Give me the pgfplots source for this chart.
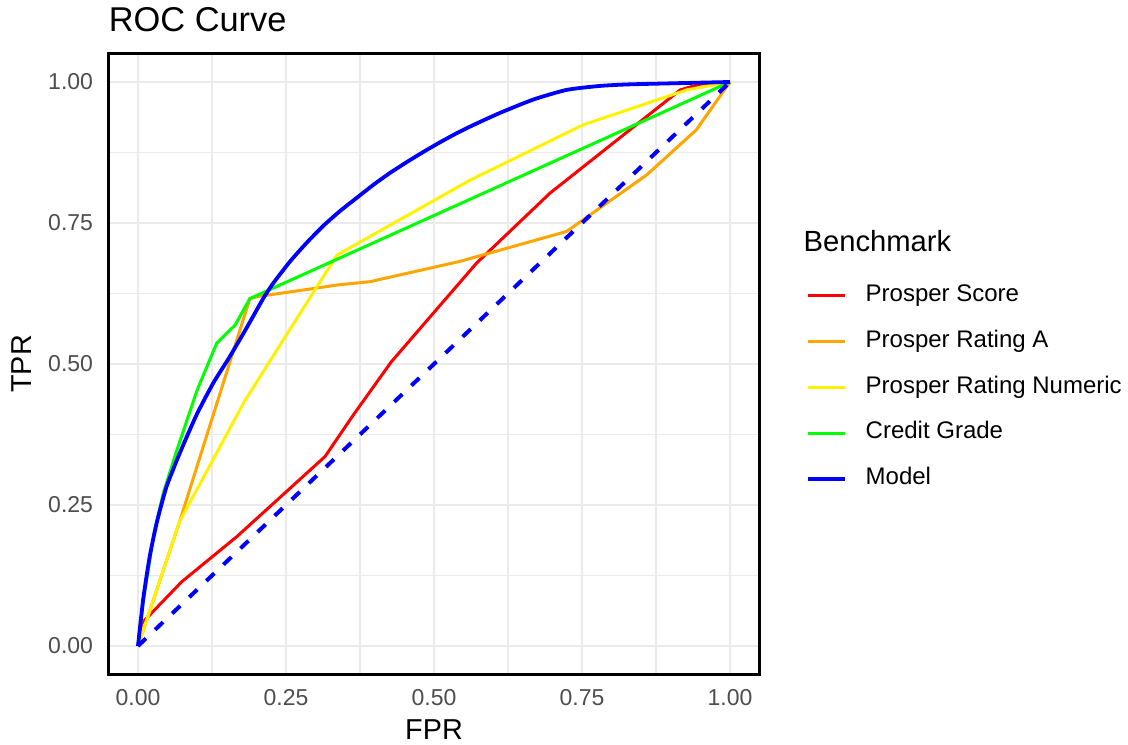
\documentclass[border=0pt]{standalone}
\usepackage{fontspec}
\setmainfont{Liberation Sans}
\usepackage{pgfplots}
\pgfplotsset{compat=1.18}
\definecolor{gridc}{HTML}{EBEBEB}
\definecolor{tickc}{HTML}{4D4D4D}
\definecolor{orng}{HTML}{FFA500}
\begin{document}
\begin{tikzpicture}
\begin{axis}[
  name=ax,
  scale only axis,
  width=325.6pt, height=310.2pt,
  xmin=-0.05, xmax=1.05, ymin=-0.05, ymax=1.05,
  xtick={0,0.25,0.5,0.75,1}, ytick={0,0.25,0.5,0.75,1},
  xticklabels={0.00,0.25,0.50,0.75,1.00},
  yticklabels={0.00,0.25,0.50,0.75,1.00},
  minor xtick={0.125,0.375,0.625,0.875},
  minor ytick={0.125,0.375,0.625,0.875},
  major tick length=0pt, minor tick length=0pt,
  grid=both,
  major grid style={gridc, line width=1.35pt},
  minor grid style={gridc, line width=0.7pt},
  axis line style={black, line width=1.4pt},
  tick label style={font=\fontsize{11.5}{13}\selectfont, text=tickc},
  xticklabel style={anchor=base, yshift=-15.4pt, inner sep=0pt},
  yticklabel style={anchor=east, xshift=-7.5pt, inner sep=0pt},
  /pgf/number format/assume math mode=true,
  xlabel={FPR}, ylabel={TPR},
  label style={font=\fontsize{14.4}{17}\selectfont},
  xlabel style={at={(axis description cs:0.5,-0.10445)}, anchor=base, inner sep=0pt},
  ylabel style={at={(axis description cs:-0.11778,0.5)}, anchor=base, inner sep=0pt},
  legend cell align=left,
  legend image code/.code={\draw[#1] (0pt,0pt) -- (18.35pt,0pt);},
  legend style={at={(axis description cs:1.0717,0.6272)}, anchor=north west,
    draw=none, fill=none, inner sep=0pt, outer sep=0pt,
    row sep=12.075pt, column sep=9.45pt,
    font=\fontsize{12}{14}\selectfont,
    nodes={inner sep=0pt, outer sep=0pt, text height=8.3pt, text depth=2.5pt}},
  clip=false,
]
\addplot[red, line width=1.5pt] coordinates {
(0,0) (0.006,0.040) (0.074,0.114) (0.167,0.194) (0.316,0.336) (0.364,0.410)
(0.428,0.504) (0.572,0.679) (0.696,0.803) (0.916,0.986) (0.949,0.996) (1,1)};
\addlegendentry{Prosper Score}
\addplot[orng, line width=1.5pt] coordinates {
(0,0) (0.071,0.223) (0.189,0.616) (0.205,0.620) (0.291,0.633) (0.336,0.640)
(0.392,0.646) (0.544,0.682) (0.724,0.735) (0.859,0.835) (0.943,0.915) (1,1)};
\addlegendentry{Prosper Rating A}
\addplot[yellow, line width=1.5pt] coordinates {
(0,0) (0.070,0.220) (0.180,0.434) (0.336,0.693) (0.561,0.826) (0.752,0.924)
(0.927,0.986) (1,1)};
\addlegendentry{Prosper Rating Numeric}
\addplot[green, line width=1.5pt] coordinates {
(0,0) (0.009,0.080) (0.027,0.200) (0.043,0.272) (0.065,0.345) (0.100,0.454)
(0.133,0.537) (0.164,0.569) (0.189,0.616) (1,1)};
\addlegendentry{Credit Grade}
\addplot[blue, line width=1.9pt, smooth, tension=0.35] coordinates {
(0,0) (0.009,0.085) (0.020,0.160) (0.032,0.220) (0.048,0.282) (0.071,0.343)
(0.099,0.410) (0.127,0.466) (0.155,0.513) (0.184,0.565) (0.212,0.617)
(0.229,0.644) (0.257,0.682) (0.285,0.715) (0.313,0.745) (0.341,0.771)
(0.370,0.795) (0.398,0.818) (0.426,0.839) (0.454,0.858) (0.482,0.876)
(0.510,0.893) (0.538,0.909) (0.567,0.924) (0.611,0.945) (0.668,0.969)
(0.724,0.986) (0.780,0.993) (0.836,0.996) (1,1)};
\addlegendentry{Model}
\addplot[blue, line width=2pt, dash pattern=on 5.5pt off 6.3pt, forget plot] coordinates {(0,0) (1,1)};
\node[anchor=base west, inner sep=0pt, font=\fontsize{14.6}{17}\selectfont] at (axis description cs:1.0670,0.6810) {Benchmark};
\node[anchor=base west, inner sep=0pt, font=\fontsize{17.2}{20}\selectfont] at (axis description cs:0,1.03546) {ROC Curve};
\end{axis}
\pgfresetboundingbox
\path[use as bounding box] (-54.2pt,-34.9pt) rectangle (509.8pt,337.1pt);
\end{tikzpicture}
\end{document}
